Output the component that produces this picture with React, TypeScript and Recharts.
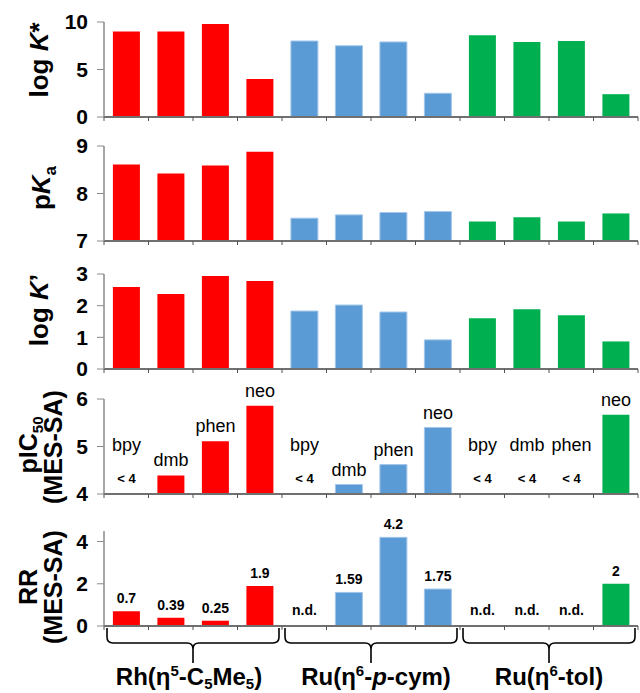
import React from "react";
import { BarChart, Bar, XAxis, YAxis, Cell, LabelList } from "recharts";

// Complexes and ligands (4 ligands per complex)
const complexes = ["Rh", "Ru-cym", "Ru-tol"];
const ligands = ["bpy", "dmb", "phen", "neo"];

const logKStar = [9.0, 9.0, 9.8, 4.0, 8.0, 7.5, 7.9, 2.5, 8.6, 7.9, 8.0, 2.4];
const pKa = [8.61, 8.42, 8.59, 8.88, 7.48, 7.55, 7.6, 7.62, 7.41, 7.5, 7.41, 7.58];
const logKPrime = [2.59, 2.37, 2.94, 2.78, 1.83, 2.02, 1.8, 0.92, 1.6, 1.89, 1.7, 0.87];
// null = below 4 (not reached)
const pIC50: (number | null)[] = [null, 4.39, 5.11, 5.86, null, 4.2, 4.62, 5.4, null, null, null, 5.67];
// null = not determined
const rr: (number | null)[] = [0.7, 0.39, 0.25, 1.9, null, 1.59, 4.2, 1.75, null, null, null, 2];

const groupColors = ["#FF0000", "#5B9BD5", "#00B050"];
const FONT = "'Liberation Sans', Arial, sans-serif";

type Row = {
  key: string;
  ligand: string;
  group: number;
  logKStar: number;
  pKa: number;
  logKPrime: number;
  pIC50: number | null;
  rr: number | null;
};

const rows: Row[] = complexes.flatMap((c, g) =>
  ligands.map((l, j) => {
    const i = g * 4 + j;
    return {
      key: `${c}-${l}`,
      ligand: l,
      group: g,
      logKStar: logKStar[i],
      pKa: pKa[i],
      logKPrime: logKPrime[i],
      pIC50: pIC50[i],
      rr: rr[i],
    };
  })
);

const rowByKey = (k: any) => rows.find((r) => r.key === k) as Row;

const PLOT_LEFT = 104;
const PLOT_RIGHT = 638;
const BAND = (PLOT_RIGHT - PLOT_LEFT) / rows.length;
const PLOT_H = 95;
const M_TOP = 20;
const AXIS_H = 10;

// x axis ticks sit on category boundaries, not centres
const BoundaryTick = (props: any) => {
  const { x, y, index } = props;
  const left = x - BAND / 2;
  return (
    <g>
      <line x1={left} x2={left} y1={y} y2={y + 4} stroke="#555" strokeWidth={1} />
      {index === rows.length - 1 && (
        <line x1={x + BAND / 2} x2={x + BAND / 2} y1={y} y2={y + 4} stroke="#555" strokeWidth={1} />
      )}
    </g>
  );
};

// missing entries get a 1px transparent stub (minPointSize), so its bottom is the baseline
const baseOf = (p: any) => p.y + p.height;

const pic50Label = (p: any) => {
  const r = rowByKey(p.value);
  const cx = p.x + p.width / 2;
  if (r.pIC50 == null) {
    const base = baseOf(p);
    return (
      <g fontFamily={FONT}>
        <text x={cx} y={base - 43} textAnchor="middle" fontSize={18} fill="#000">
          {r.ligand}
        </text>
        <text x={cx} y={base - 11} textAnchor="middle" fontSize={13} fontWeight={700} fill="#000">
          {"< 4"}
        </text>
      </g>
    );
  }
  return (
    <text x={cx} y={p.y - 9} textAnchor="middle" fontSize={18} fill="#000" fontFamily={FONT}>
      {r.ligand}
    </text>
  );
};

const rrLabel = (p: any) => {
  const r = rowByKey(p.value);
  const cx = p.x + p.width / 2;
  return (
    <text
      x={cx}
      y={r.rr == null ? baseOf(p) - 11 : p.y - 8}
      textAnchor="middle"
      fontSize={14}
      fontWeight={700}
      fill="#000"
      fontFamily={FONT}
    >
      {r.rr == null ? "n.d." : String(r.rr)}
    </text>
  );
};

type PanelProps = {
  plotTop: number;
  valueOf: (r: Row) => number;
  missing?: (r: Row) => boolean;
  domain: [number, number];
  ticks: number[];
  label?: (p: any) => React.ReactNode;
};

function Panel({ plotTop, valueOf, missing, domain, ticks, label }: PanelProps) {
  return (
    <div style={{ position: "absolute", left: 0, top: plotTop - M_TOP }}>
      <BarChart
        width={640}
        height={M_TOP + PLOT_H + AXIS_H}
        data={rows}
        margin={{ top: M_TOP, right: 640 - PLOT_RIGHT, bottom: 0, left: 0 }}
        barCategoryGap="20%"
      >
        <XAxis
          dataKey="key"
          height={AXIS_H}
          interval={0}
          axisLine={{ stroke: "#707070", strokeWidth: 2 }}
          tickLine={false}
          tickSize={0}
          tickMargin={0}
          tick={<BoundaryTick />}
        />
        <YAxis
          width={PLOT_LEFT}
          domain={domain}
          ticks={ticks}
          interval={0}
          allowDataOverflow
          axisLine={{ stroke: "#8a8a8a", strokeWidth: 1.5 }}
          tickLine={{ stroke: "#8a8a8a" }}
          tickSize={7}
          tickMargin={9}
          tick={{ fontSize: 21, fontWeight: 700, fill: "#000", fontFamily: FONT }}
        />
        <Bar dataKey={valueOf} isAnimationActive={false} minPointSize={missing ? 1 : 0}>
          {rows.map((r) => {
            const hidden = missing ? missing(r) : false;
            return (
              <Cell
                key={r.key}
                fill={hidden ? "transparent" : groupColors[r.group]}
                stroke={!hidden && r.group === 1 ? "#a3c6ea" : "none"}
                strokeWidth={!hidden && r.group === 1 ? 1 : 0}
              />
            );
          })}
          {label && <LabelList dataKey="key" content={label} />}
        </Bar>
      </BarChart>
    </div>
  );
}

// rotated axis title; x is the baseline position
const VTitle = ({ x, y, size = 26, children }: { x: number; y: number; size?: number; children: React.ReactNode }) => (
  <text
    x={x}
    y={y}
    transform={`rotate(-90 ${x} ${y})`}
    textAnchor="middle"
    fontSize={size}
    fontWeight={700}
    fontFamily={FONT}
    fill="#000"
  >
    {children}
  </text>
);

function brace(g: number) {
  const x0 = PLOT_LEFT + g * 4 * BAND + 3;
  const x1 = PLOT_LEFT + (g + 1) * 4 * BAND - 3;
  const xm = (x0 + x1) / 2;
  const t = 628;
  const m = 643;
  const b = 663;
  const r = 6;
  return (
    `M ${x0} ${t} L ${x0} ${m - r} Q ${x0} ${m} ${x0 + r} ${m} L ${xm - r} ${m} ` +
    `Q ${xm} ${m} ${xm} ${m + r} L ${xm} ${b} M ${xm} ${m + r} Q ${xm} ${m} ${xm + r} ${m} ` +
    `L ${x1 - r} ${m} Q ${x1} ${m} ${x1} ${m - r} L ${x1} ${t}`
  );
}

const groupCenter = (g: number) => PLOT_LEFT + (g * 4 + 2) * BAND;

export default function App() {
  return (
    <div style={{ position: "absolute", left: 0, top: 0, width: 640, height: 693, background: "#fff" }}>
      <Panel plotTop={22} valueOf={(r) => r.logKStar} domain={[0, 10]} ticks={[0, 5, 10]} />
      <Panel plotTop={146} valueOf={(r) => r.pKa} domain={[7, 9]} ticks={[7, 8, 9]} />
      <Panel plotTop={274} valueOf={(r) => r.logKPrime} domain={[0, 3]} ticks={[0, 1, 2, 3]} />
      <Panel
        plotTop={399}
        valueOf={(r) => (r.pIC50 == null ? 4 : r.pIC50)}
        missing={(r) => r.pIC50 == null}
        domain={[4, 6]}
        ticks={[4, 5, 6]}
        label={pic50Label}
      />
      <Panel
        plotTop={531}
        valueOf={(r) => (r.rr == null ? 0 : r.rr)}
        missing={(r) => r.rr == null}
        domain={[0, 4.5]}
        ticks={[0, 2, 4]}
        label={rrLabel}
      />

      <svg
        width={640}
        height={693}
        style={{ position: "absolute", left: 0, top: 0, pointerEvents: "none", overflow: "visible" }}
      >
        <VTitle x={48} y={60}>
          log <tspan fontStyle="italic">K</tspan>*
        </VTitle>
        <VTitle x={50} y={188}>
          p<tspan fontStyle="italic">K</tspan>
          <tspan fontSize={17} dy={6}>a</tspan>
        </VTitle>
        <VTitle x={48} y={310}>
          log <tspan fontStyle="italic">K</tspan>’
        </VTitle>
        <VTitle x={37} y={445} size={25}>
          pIC<tspan fontSize={15} dy={6}>50</tspan>
        </VTitle>
        <VTitle x={62} y={447} size={25}>
          (MES-SA)
        </VTitle>
        <VTitle x={37} y={587} size={25}>
          RR
        </VTitle>
        <VTitle x={62} y={587} size={25}>
          (MES-SA)
        </VTitle>

        {complexes.map((c, g) => (
          <path key={c} d={brace(g)} fill="none" stroke="#000" strokeWidth={1.6} />
        ))}

        <g fontFamily={FONT} fontWeight={700} fontSize={24} fill="#000" textAnchor="middle">
          <text x={groupCenter(0) - 4} y={685}>
            Rh(η<tspan fontSize={15} dy={-9}>5</tspan>
            <tspan dy={9}>-C</tspan>
            <tspan fontSize={15} dy={4}>5</tspan>
            <tspan dy={-4}>Me</tspan>
            <tspan fontSize={15} dy={4}>5</tspan>
            <tspan dy={-4}>)</tspan>
          </text>
          <text x={groupCenter(1) + 5} y={685}>
            Ru(η<tspan fontSize={15} dy={-9}>6</tspan>
            <tspan dy={9}>-</tspan>
            <tspan fontStyle="italic">p</tspan>-cym)
          </text>
          <text x={groupCenter(2)} y={685}>
            Ru(η<tspan fontSize={15} dy={-9}>6</tspan>
            <tspan dy={9}>-tol)</tspan>
          </text>
        </g>
      </svg>
    </div>
  );
}
